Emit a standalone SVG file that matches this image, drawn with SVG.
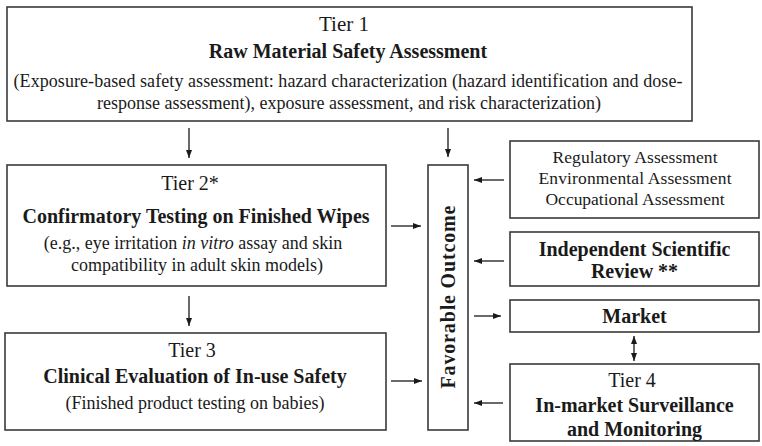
<svg xmlns="http://www.w3.org/2000/svg" width="762" height="446" viewBox="0 0 762 446">
<style>
.box{fill:#fff;stroke:#3a3a3a;stroke-width:1.6}
text{font-family:"Liberation Serif","Times New Roman",serif;fill:#1a1a1a;text-anchor:middle}
.t{font-size:20px}
.b{font-size:20px;font-weight:bold}
.p{font-size:18px}
.r{font-size:17.5px}
.c{stroke:#1a1a1a;stroke-width:1.3;fill:none}
</style>
<defs>
<marker id="ah" markerWidth="8" markerHeight="6" refX="8" refY="3" orient="auto" markerUnits="userSpaceOnUse"><path d="M0,0 L8,3 L0,6 z" fill="#1a1a1a"/></marker>
<marker id="as" markerWidth="8" markerHeight="6" refX="0" refY="3" orient="auto" markerUnits="userSpaceOnUse"><path d="M8,0 L0,3 L8,6 z" fill="#1a1a1a"/></marker>
</defs>
<rect width="762" height="446" fill="#fff"/>
<g id="tier1">
<rect class="box" x="7" y="7" width="685" height="114"/>
<text class="t" x="344" y="31" style="font-size:21px">Tier 1</text>
<text class="b" x="348" y="58">Raw Material Safety Assessment</text>
<text class="p" x="348" y="87" textLength="669" lengthAdjust="spacing">(Exposure-based safety assessment: hazard characterization (hazard identification and dose-</text>
<text class="p" x="349" y="109">response assessment), exposure assessment, and risk characterization)</text>
</g>
<g id="tier2">
<rect class="box" x="7" y="165" width="379" height="121"/>
<text class="t" x="190" y="190">Tier 2*</text>
<text class="b" x="196" y="223">Confirmatory Testing on Finished Wipes</text>
<text class="p" x="193" y="249">(e.g., eye irritation <tspan font-style="italic">in vitro</tspan> assay and skin</text>
<text class="p" x="197" y="271">compatibility in adult skin models)</text>
</g>
<g id="tier3">
<rect class="box" x="5" y="333" width="381" height="97"/>
<text class="t" x="192" y="357">Tier 3</text>
<text class="b" x="195" y="383">Clinical Evaluation of In-use Safety</text>
<text class="p" x="195" y="409">(Finished product testing on babies)</text>
</g>
<g id="favorable">
<rect class="box" x="428" y="165" width="40" height="265"/>
<text class="b" transform="translate(455,297) rotate(-90)" x="0" y="0" textLength="183" lengthAdjust="spacing">Favorable Outcome</text>
</g>
<g id="regulatory">
<rect class="box" x="510" y="141" width="249" height="77"/>
<text class="r" x="635" y="163" textLength="165" lengthAdjust="spacing">Regulatory Assessment</text>
<text class="r" x="635" y="184" textLength="193" lengthAdjust="spacing">Environmental Assessment</text>
<text class="r" x="635" y="205" textLength="179" lengthAdjust="spacing">Occupational Assessment</text>
</g>
<g id="review">
<rect class="box" x="510" y="232" width="249" height="54"/>
<text class="b" x="634.5" y="256">Independent Scientific</text>
<text class="b" x="634.5" y="278">Review **</text>
</g>
<g id="market">
<rect class="box" x="510" y="300" width="249" height="32"/>
<text class="b" x="634.5" y="323">Market</text>
</g>
<g id="tier4">
<rect class="box" x="510" y="364" width="249" height="77"/>
<text class="t" x="632" y="387">Tier 4</text>
<text class="b" x="634.5" y="412">In-market Surveillance</text>
<text class="b" x="634.5" y="436">and Monitoring</text>
</g>
<g id="connectors">
<line class="c" x1="189" y1="128" x2="189" y2="158" marker-end="url(#ah)"/>
<line class="c" x1="448" y1="128" x2="448" y2="157" marker-end="url(#ah)"/>
<line class="c" x1="391" y1="226" x2="421" y2="226" marker-end="url(#ah)"/>
<line class="c" x1="189" y1="296" x2="189" y2="326" marker-end="url(#ah)"/>
<line class="c" x1="391" y1="381" x2="422" y2="381" marker-end="url(#ah)"/>
<line class="c" x1="504" y1="180" x2="474" y2="180" marker-end="url(#ah)"/>
<line class="c" x1="504" y1="261" x2="474" y2="261" marker-end="url(#ah)"/>
<line class="c" x1="474" y1="316" x2="501" y2="316" marker-end="url(#ah)"/>
<line class="c" x1="634" y1="336" x2="634" y2="361" marker-start="url(#as)" marker-end="url(#ah)"/>
<line class="c" x1="503" y1="403" x2="474" y2="403" marker-end="url(#ah)"/>
</g>
</svg>
